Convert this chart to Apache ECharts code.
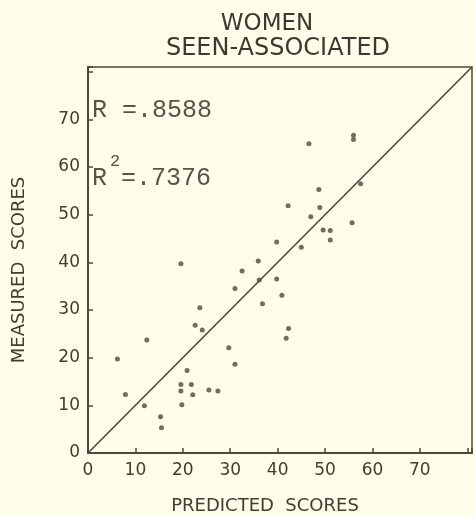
<!DOCTYPE html>
<html>
<head>
<meta charset="utf-8">
<script src="https://cdn.jsdelivr.net/npm/echarts@6/dist/echarts.min.js"></script>
<style>
  html, body { margin: 0; padding: 0; background: #fefde9; }
  #scatter { width: 475px; height: 516px; }
</style>
</head>
<body>
<div id="scatter"></div>
<script>
// predicted (x) and measured (y) scores
var predicted = [19.6, 35.9, 32.5, 31.0, 36.1, 39.8, 36.8, 23.6, 22.6, 24.1, 12.4, 6.2, 29.7, 31.0, 20.9,
  7.9, 19.6, 21.8, 19.6, 22.1, 25.5, 27.4, 11.9, 19.8, 15.3, 15.5, 56.0, 56.0, 46.6, 57.5,
  48.7, 42.2, 48.9, 47.0, 55.7, 49.6, 51.1, 51.1, 39.8, 45.0, 40.9, 42.3, 41.8];
var measured = [39.7, 40.3, 38.2, 34.5, 36.3, 36.5, 31.3, 30.5, 26.8, 25.8, 23.7, 19.7, 22.1, 18.6, 17.3,
  12.3, 14.4, 14.4, 13.0, 12.2, 13.2, 13.0, 9.9, 10.1, 7.6, 5.3, 66.7, 65.8, 64.9, 56.5,
  55.3, 51.9, 51.5, 49.6, 48.3, 46.8, 46.7, 44.7, 44.3, 43.2, 33.1, 26.1, 24.1];
// line of equality
var lineX = [0, 81];
var lineY = [0, 81];
var rText = 'R =.8588';
var r2Text = '=.7376';

var ink = '#4a4a3c';
var points = predicted.map(function (v, i) { return [v, measured[i]]; });
var diag = lineX.map(function (v, i) { return [v, lineY[i]]; });

var myChart = echarts.init(document.getElementById('scatter'));
var axisCommon = {
  type: 'value',
  min: 0,
  max: 81,
  interval: 10,
  axisLine: { show: true, lineStyle: { color: ink, width: 2 } },
  axisTick: { show: true, inside: true, length: 5, lineStyle: { color: ink, width: 1.5 } },
  splitLine: { show: false },
  axisLabel: {
    color: '#3e3e32',
    fontFamily: 'DejaVu Sans',
    fontSize: 17,
    formatter: function (v) { return v >= 80 ? '' : String(v); }
  }
};
var option = {
  backgroundColor: '#fefde9',
  animation: false,
  title: [
    { text: 'WOMEN', left: 262, top: 8, textAlign: 'center',
      textStyle: { fontFamily: 'DejaVu Sans', fontSize: 23, fontWeight: 'normal', color: '#3a3a30' } },
    { text: 'SEEN-ASSOCIATED', left: 273, top: 32, textAlign: 'center',
      textStyle: { fontFamily: 'DejaVu Sans', fontSize: 24, fontWeight: 'normal', color: '#3a3a30' } }
  ],
  grid: {
    left: 88, right: 3, top: 67, bottom: 63,
    show: true, borderColor: ink, borderWidth: 1.5, backgroundColor: 'transparent'
  },
  xAxis: Object.assign({}, axisCommon, {
    axisLabel: Object.assign({}, axisCommon.axisLabel, { margin: 9 })
  }),
  yAxis: Object.assign({}, axisCommon, {
    axisLabel: Object.assign({}, axisCommon.axisLabel, { margin: 8 })
  }),
  graphic: [
    { type: 'text', left: 92, top: 98,
      style: { text: rText, font: '25px "Liberation Mono"', fill: '#55554a' } },
    { type: 'text', left: 92, top: 166,
      style: { text: 'R', font: '25px "Liberation Mono"', fill: '#55554a' } },
    { type: 'text', left: 110, top: 153,
      style: { text: '2', font: '17px "Liberation Mono"', fill: '#55554a' } },
    { type: 'text', left: 121, top: 166,
      style: { text: r2Text, font: '25px "Liberation Mono"', fill: '#55554a' } },
    { type: 'text', x: 265, y: 506,
      style: { text: 'PREDICTED  SCORES', font: '18px "DejaVu Sans"', fill: '#3e3e32',
        textAlign: 'center', textVerticalAlign: 'middle' } },
    { type: 'text', x: 19, y: 270, rotation: Math.PI / 2,
      style: { text: 'MEASURED  SCORES', font: '18px "DejaVu Sans"', fill: '#3e3e32',
        textAlign: 'center', textVerticalAlign: 'middle' } }
  ],
  series: [
    {
      type: 'line',
      data: diag,
      symbol: 'none',
      lineStyle: { color: ink, width: 1.6 },
      z: 2
    },
    {
      type: 'scatter',
      data: points,
      symbolSize: 5,
      itemStyle: { color: '#4a4a3e' },
      z: 3
    }
  ]
};
myChart.setOption(option, true);
</script>
</body>
</html>
